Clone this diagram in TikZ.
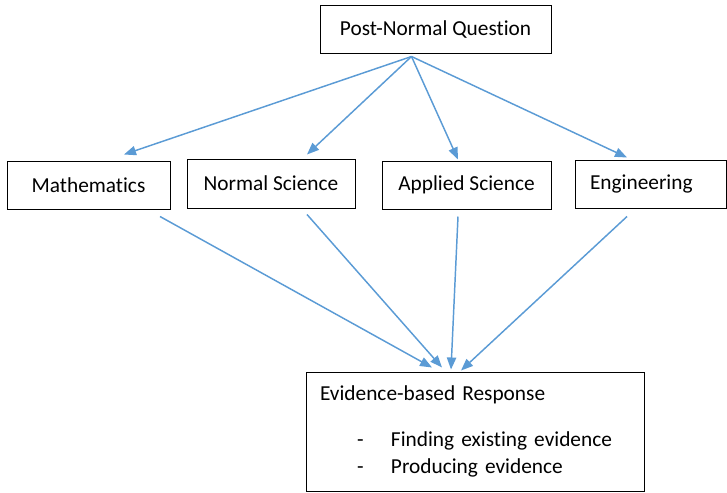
\documentclass[tikz,border=0pt]{standalone}
\usepackage{fontspec}
\setmainfont[Ligatures=NoCommon]{Carlito}
\usetikzlibrary{positioning,arrows.meta,calc}
\definecolor{arrowblue}{RGB}{91,155,213}

\begin{document}
\begin{tikzpicture}[x=0.75pt, y=-0.75pt, >={Triangle[length=9pt,width=7pt]},
    box/.style={draw, line width=0.75pt, inner sep=0pt, font=\fontsize{16}{20.25}\selectfont},
    arr/.style={->, line width=1.1pt, draw=arrowblue, fill=arrowblue}]
    \useasboundingbox (0,0) rectangle (727,492);

    % boxes
    \node[box, minimum width=173.25pt, minimum height=36pt] (question) at (435.5,30) {Post-Normal Question};
    \node[box, minimum width=122.25pt, minimum height=36pt] (maths) at (88.5,185) {Mathematics};
    \node[box, minimum width=126pt, minimum height=36.75pt] (normal) at (271,183.5) {Normal Science};
    \node[box, minimum width=126.75pt, minimum height=36pt] (applied) at (466.5,185) {Applied Science};
    \node[box, text width=90.75pt, align=left, inner xsep=11.25pt, minimum height=36pt] (engin) at (650.5,184) {Engineering};
    \node[box, text width=232.5pt, align=left, inner xsep=10.5pt, minimum height=89.25pt] (response) at (475,431.5)
        {Evidence-based Response\\[14pt]
         \hspace*{27.75pt}\makebox[25.5pt][l]{-}Finding existing evidence\\
         \hspace*{27.75pt}\makebox[25.5pt][l]{-}Producing evidence};

    % question to disciplines
    \coordinate (hub) at ($(question.south)+(-24,2)$);
    \draw[arr] (hub) -- ($(maths.north)+(35.5,-6)$);
    \draw[arr] (hub) -- ($(normal.north)+(36,-4)$);
    \draw[arr] (hub) -- ($(applied.north)+(-8.5,-1)$);
    \draw[arr] (hub) -- ($(engin.north)+(-23.5,-2)$);

    % disciplines to response
    \draw[arr] ($(maths.south)+(71.5,7)$) -- ($(response.north)+(-43,-4)$);
    \draw[arr] ($(normal.south)+(36,6)$) -- ($(response.north)+(-33,-4)$);
    \draw[arr] ($(applied.south)+(-8.5,7)$) -- ($(response.north)+(-24,-2)$);
    \draw[arr] ($(engin.south)+(-23.5,8)$) -- ($(response.north)+(-14,-1)$);
\end{tikzpicture}
\end{document}
